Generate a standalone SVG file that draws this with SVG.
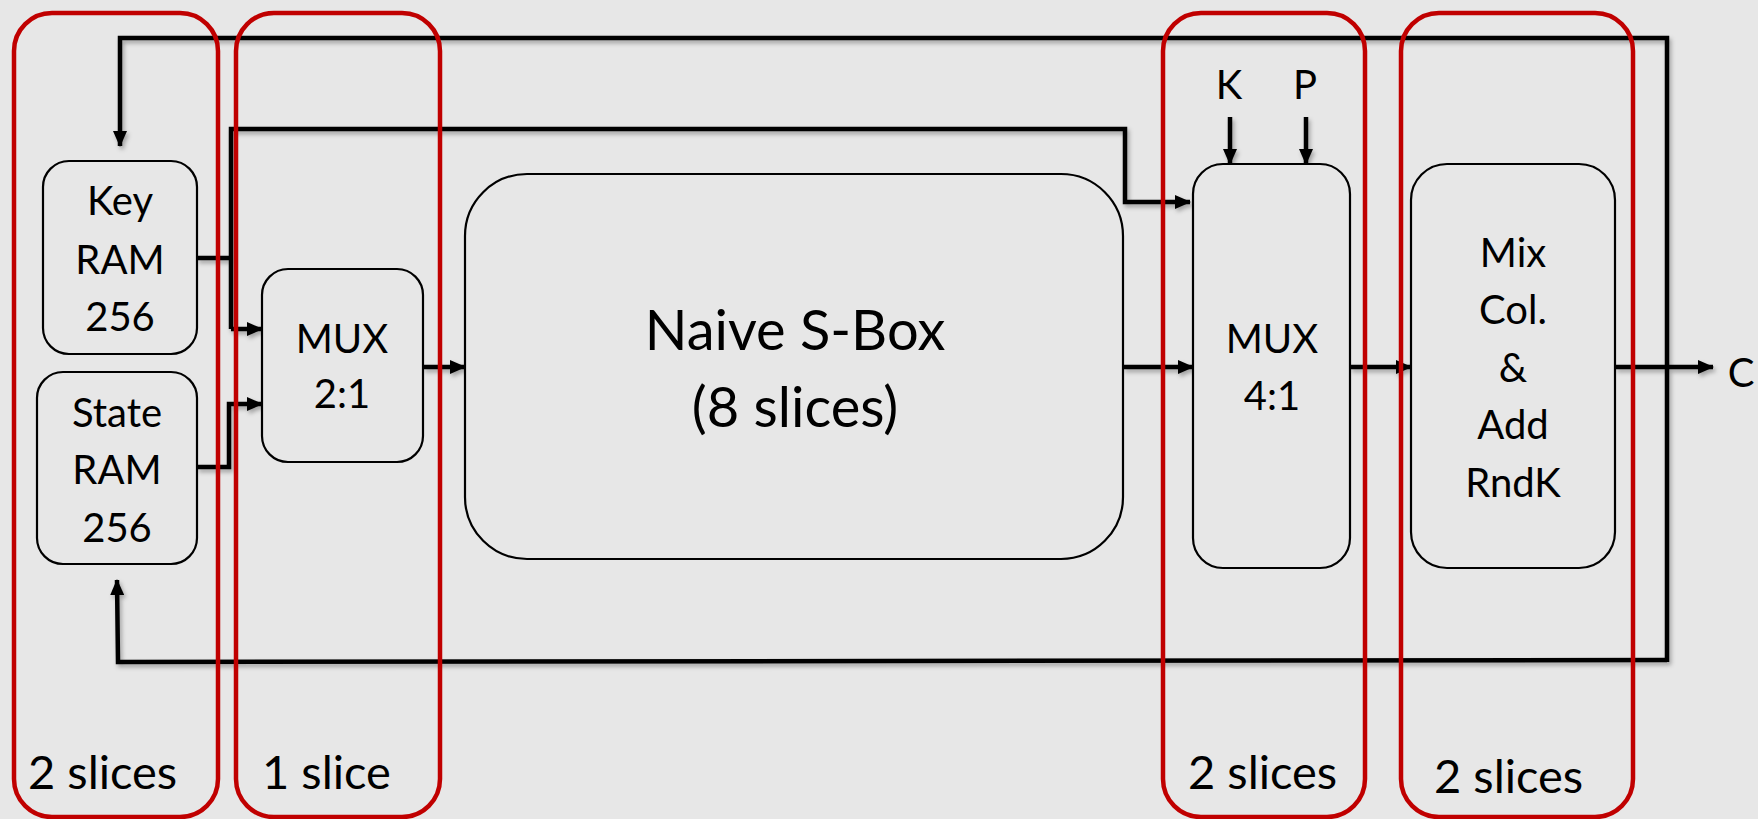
<svg xmlns="http://www.w3.org/2000/svg" width="1758" height="819" viewBox="0 0 1758 819">
  <defs>
    <style>
      .bg { fill: #E7E7E7; }
      .box { fill: #E7E7E7; stroke: #000; stroke-width: 2.2; }
      .slice { fill: none; stroke: #C00000; stroke-width: 4.5; }
      .wire { fill: none; stroke: #000; stroke-width: 4.5; stroke-linejoin: miter; }
      .lbl { font-family: Lato, "Liberation Sans", sans-serif; fill: #000; text-anchor: middle; }
      .node { font-size: 40px; }
      .big { font-size: 56px; }
      .cnt { font-size: 47px; text-anchor: start; }
    </style>
    <marker id="arr" viewBox="0 0 16 14" refX="15" refY="7" markerWidth="16" markerHeight="14" markerUnits="userSpaceOnUse" orient="auto">
      <path d="M0,0 L16,7 L0,14 Z" fill="#000"/>
    </marker>
    <filter id="shadow" x="-5%" y="-5%" width="110%" height="110%">
      <feDropShadow dx="2" dy="3" stdDeviation="2" flood-color="#000" flood-opacity="0.3"/>
    </filter>
  </defs>

  <rect class="bg" x="0" y="0" width="1758" height="819"/>

  <!-- data-path wires -->
  <g id="connectors" filter="url(#shadow)">
    <!-- feedback loop: back to key RAM and state RAM -->
    <polyline class="wire" points="1667,662 1667,38 120,38 120,146" marker-end="url(#arr)"/>
    <polyline class="wire" points="1667,660 118,662 117,580" marker-end="url(#arr)"/>
    <!-- key RAM to MUX 2:1 and MUX 4:1 -->
    <polyline class="wire" points="197,258 231,258"/>
    <polyline class="wire" points="231,329 231,129 1125,129 1125,202 1190,202" marker-end="url(#arr)"/>
    <polyline class="wire" points="231,329 262,329" marker-end="url(#arr)"/>
    <!-- state RAM to MUX 2:1 -->
    <polyline class="wire" points="197,467 229,467 229,404 262,404" marker-end="url(#arr)"/>
    <!-- main datapath -->
    <line class="wire" x1="423" y1="367" x2="465" y2="367" marker-end="url(#arr)"/>
    <line class="wire" x1="1123" y1="367" x2="1193" y2="367" marker-end="url(#arr)"/>
    <line class="wire" x1="1350" y1="367" x2="1411" y2="367" marker-end="url(#arr)"/>
    <line class="wire" x1="1615" y1="367" x2="1713" y2="367" marker-end="url(#arr)"/>
    <!-- K and P inputs -->
    <line class="wire" x1="1230" y1="117" x2="1230" y2="164" marker-end="url(#arr)"/>
    <line class="wire" x1="1306" y1="117" x2="1306" y2="164" marker-end="url(#arr)"/>
  </g>

  <g id="key-ram">
    <rect class="box" x="43" y="161" width="154" height="193" rx="26"/>
    <text class="lbl node" x="120" y="215">Key</text>
    <text class="lbl node" x="120" y="274">RAM</text>
    <text class="lbl node" x="120" y="331">256</text>
  </g>

  <g id="state-ram">
    <rect class="box" x="37" y="372" width="160" height="192" rx="26"/>
    <text class="lbl node" x="117" y="427">State</text>
    <text class="lbl node" x="117" y="484">RAM</text>
    <text class="lbl node" x="117" y="542">256</text>
  </g>

  <g id="mux21">
    <rect class="box" x="262" y="269" width="161" height="193" rx="26"/>
    <text class="lbl node" x="342" y="353">MUX</text>
    <text class="lbl node" x="342" y="408">2:1</text>
  </g>

  <g id="sbox">
    <rect class="box" x="465" y="174" width="658" height="385" rx="62"/>
    <text class="lbl big" x="795" y="350">Naive S-Box</text>
    <text class="lbl big" x="795" y="427">(8 slices)</text>
  </g>

  <g id="mux41">
    <rect class="box" x="1193" y="164" width="157" height="404" rx="30"/>
    <text class="lbl node" x="1272" y="353">MUX</text>
    <text class="lbl node" x="1272" y="410">4:1</text>
  </g>

  <g id="mixcol">
    <rect class="box" x="1411" y="164" width="204" height="404" rx="36"/>
    <text class="lbl node" x="1513" y="267">Mix</text>
    <text class="lbl node" x="1513" y="324">Col.</text>
    <text class="lbl node" x="1513" y="382">&amp;</text>
    <text class="lbl node" x="1513" y="439">Add</text>
    <text class="lbl node" x="1513" y="497">RndK</text>
  </g>

  <g id="io-labels">
    <text class="lbl node" x="1229" y="99">K</text>
    <text class="lbl node" x="1305" y="99">P</text>
    <text class="lbl node" x="1741" y="387">C</text>
  </g>

  <!-- slice groupings -->
  <g id="slices-ram">
    <rect class="slice" x="14" y="13" width="204" height="804" rx="38"/>
    <text class="lbl cnt" x="28" y="789">2 slices</text>
  </g>
  <g id="slices-mux21">
    <rect class="slice" x="236" y="13" width="204" height="804" rx="38"/>
    <text class="lbl cnt" x="262" y="789">1 slice</text>
  </g>
  <g id="slices-mux41">
    <rect class="slice" x="1163" y="13" width="202" height="804" rx="38"/>
    <text class="lbl cnt" x="1188" y="789">2 slices</text>
  </g>
  <g id="slices-mixcol">
    <rect class="slice" x="1401" y="13" width="232" height="804" rx="38"/>
    <text class="lbl cnt" x="1434" y="793">2 slices</text>
  </g>
</svg>
